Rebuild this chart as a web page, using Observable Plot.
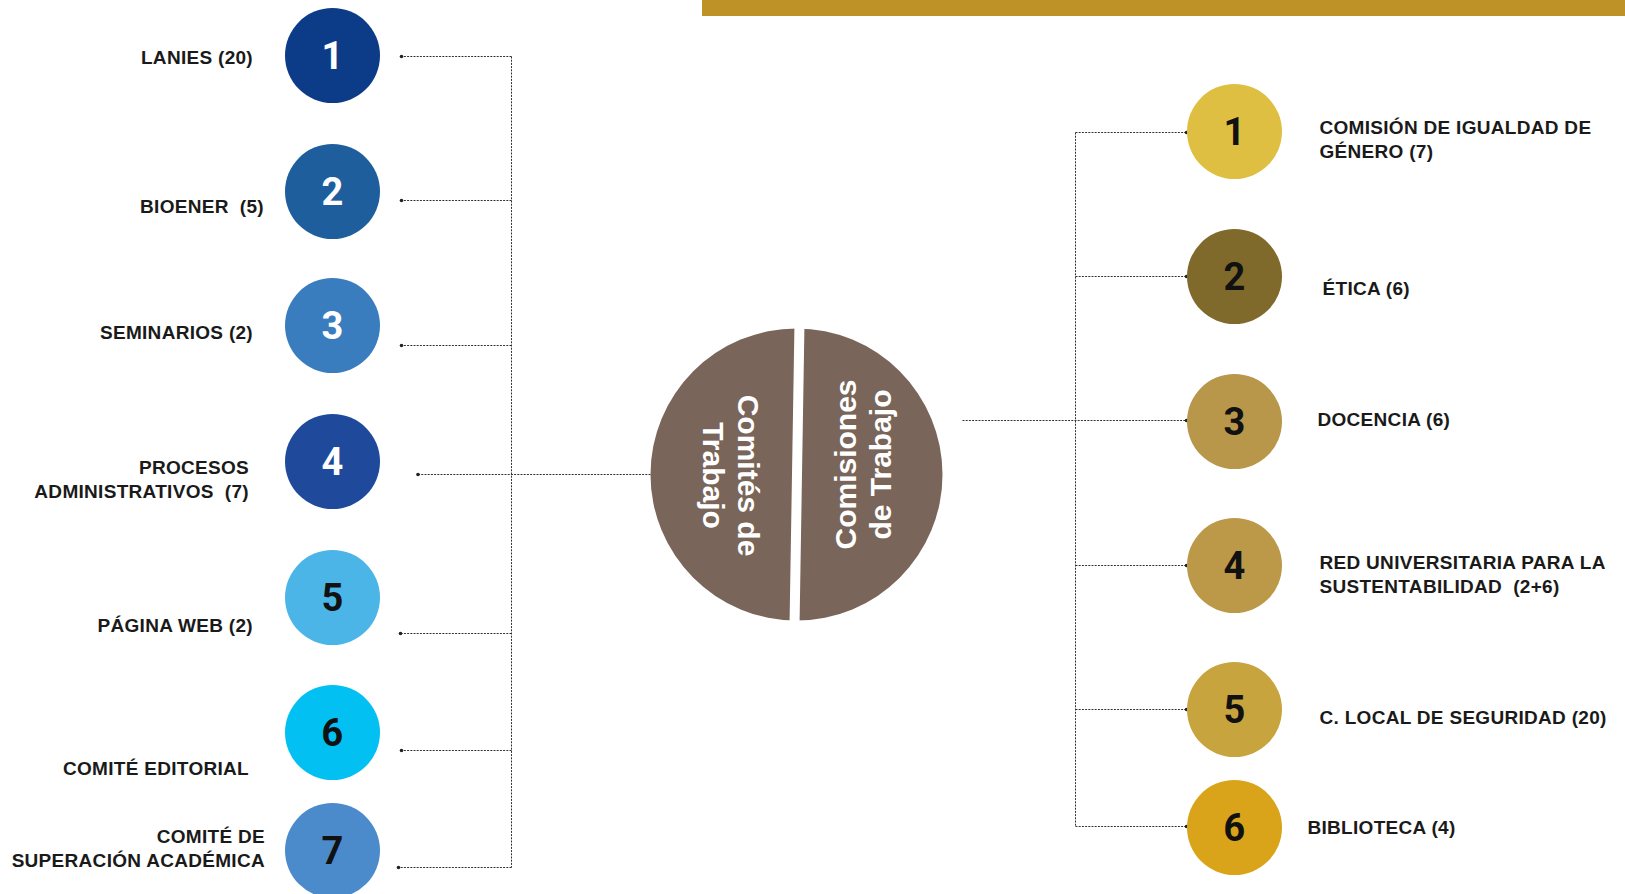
<!DOCTYPE html>
<html><head><meta charset="utf-8">
<script src="https://cdn.jsdelivr.net/npm/d3@7"></script>
<script src="https://cdn.jsdelivr.net/npm/@observablehq/plot@0.6"></script>
<style>body{margin:0;background:#fff;overflow:hidden}</style>
</head><body><div id="chart"></div>
<script>
// ---- data ----
const comiteNames = ["LANIES", "BIOENER ", "SEMINARIOS", "PROCESOS\nADMINISTRATIVOS ", "PÁGINA WEB", "COMITÉ EDITORIAL", "COMITÉ DE\nSUPERACIÓN ACADÉMICA"];
const comiteMembers = ["20", "5", "2", "7", "2", "", ""];
const comiteNumbers = [1, 2, 3, 4, 5, 6, 7];
const comisionNames = ["COMISIÓN DE IGUALDAD DE\nGÉNERO", "ÉTICA", "DOCENCIA", "RED UNIVERSITARIA PARA LA\nSUSTENTABILIDAD ", "C. LOCAL DE SEGURIDAD", "BIBLIOTECA"];
const comisionMembers = ["7", "6", "6", "2+6", "20", "4"];
const comisionNumbers = [1, 2, 3, 4, 5, 6];
const centerLabels = ["Comités de\nTrabajo", "Comisiones\nde Trabajo"];

// ---- layout (pixels) ----
const W = 1625, H = 894;
const leftColors = ["#0C3C87", "#1E5E9C", "#3A7DBE", "#1F4A9B", "#4BB5E7", "#02C1F2", "#4B8BCB"];
const leftNumColors = ["#fff", "#fff", "#fff", "#fff", "#111", "#111", "#111"];
const rightColors = ["#DFBF42", "#806A2B", "#B8964A", "#BC9949", "#C8A43F", "#D9A419"];
const L = {cx: 332, r: 47.5, cy: [55, 191, 325, 461, 597, 732, 850],
  linkY: [56, 200, 345, 474, 633, 750, 867], tipX: [401, 401, 401, 417.5, 400, 401, 398],
  trunkX: 511, labelX: [252.5, 263.5, 252.5, 248.5, 252.5, 248.5, 264.5], labelY: [56, 205, 331, 477.5, 624, 767, 846.5]};
const R = {cx: 1234, r: 47.5, cy: [131, 276, 421, 565, 709, 827],
  linkY: [132, 276, 420, 565, 709, 826], tipX: 1186, trunkX: 1075,
  labelX: [1319, 1322, 1317, 1319, 1319, 1307], labelY: [137.5, 287, 417.5, 572.5, 716, 826]};
const C = {cx: 796, cy: 474, r: 146};

const fmt = (n, m) => m ? `${n} (${m})` : n;
const left = comiteNames.map((n, i) => ({i, label: fmt(n, comiteMembers[i]), num: comiteNumbers[i]}));
const right = comisionNames.map((n, i) => ({i, label: fmt(n, comisionMembers[i]), num: comisionNumbers[i]}));

const dash = {stroke: "#333", strokeWidth: 1, strokeDasharray: "2,1.2"};
const leftLinks = left.map(d => ({x1: d.i === 3 ? C.cx - C.r : L.trunkX, x2: L.tipX[d.i], y: L.linkY[d.i]}));
const rightLinks = right.map(d => ({x1: d.i === 2 ? 962 : R.trunkX, x2: R.tipX, y: R.linkY[d.i]}));
const numFont = "Roboto, 'Liberation Sans', sans-serif";
const labelFont = "'Liberation Sans', Arial, sans-serif";

const chart = Plot.plot({
  width: W, height: H, margin: 0,
  x: {domain: [0, W], range: [0, W], axis: null},
  y: {domain: [0, H], range: [0, H], axis: null},
  style: {background: "#fff"},
  marks: [
    Plot.rect([0], {x1: () => 702, x2: () => W, y1: () => 0, y2: () => 16, fill: "#BE9226"}),
    // left connectors
    Plot.link([0], {x1: () => L.trunkX, x2: () => L.trunkX, y1: () => L.linkY[0], y2: () => L.linkY[6], ...dash}),
    Plot.link(leftLinks, {x1: "x1", x2: "x2", y1: "y", y2: "y", ...dash}),
    Plot.dot(leftLinks, {x: "x2", y: "y", r: 1.8, fill: "#222"}),
    // right connectors
    Plot.link([0], {x1: () => R.trunkX, x2: () => R.trunkX, y1: () => R.linkY[0], y2: () => R.linkY[5], ...dash}),
    Plot.link(rightLinks, {x1: "x1", x2: "x2", y1: "y", y2: "y", ...dash}),
    Plot.dot(rightLinks, {x: "x2", y: "y", r: 1.8, fill: "#222"}),
    // center split circle
    Plot.dot([0], {x: () => C.cx, y: () => C.cy, r: C.r, fill: "#7A655A"}),
    Plot.link([0], {x1: () => 799, y1: () => C.cy - C.r - 6, x2: () => 794, y2: () => C.cy + C.r + 6, stroke: "#fff", strokeWidth: 10}),
    Plot.text([centerLabels[0]], {x: () => 731, y: () => 475, text: d => d, rotate: 90, fontSize: 30, fontWeight: "bold", lineHeight: 1.17, fill: "#fff", fontFamily: labelFont}),
    Plot.text([centerLabels[1]], {x: () => 862, y: () => 464, text: d => d, rotate: -90, fontSize: 30, fontWeight: "bold", lineHeight: 1.17, fill: "#fff", fontFamily: labelFont}),
    // left circles
    Plot.dot(left, {x: () => L.cx, y: d => L.cy[d.i], r: L.r, fill: d => leftColors[d.i]}),
    Plot.text(left, {x: () => L.cx, y: d => L.cy[d.i] + 1, text: "num", fill: d => leftNumColors[d.i], fontSize: 38, fontWeight: "bold", fontFamily: numFont}),
    Plot.text(left, {x: d => L.labelX[d.i], y: d => L.labelY[d.i], text: "label", textAnchor: "end", fontSize: 19, fontWeight: "bold", lineHeight: 1.3, fill: "#1a1a1a", fontFamily: labelFont}),
    // right circles
    Plot.dot(right, {x: () => R.cx, y: d => R.cy[d.i], r: R.r, fill: d => rightColors[d.i]}),
    Plot.text(right, {x: () => R.cx, y: d => R.cy[d.i] + 1, text: "num", fill: "#111", fontSize: 38, fontWeight: "bold", fontFamily: numFont}),
    Plot.text(right, {x: d => R.labelX[d.i], y: d => R.labelY[d.i], text: "label", textAnchor: "start", fontSize: 19, fontWeight: "bold", lineHeight: 1.3, fill: "#1a1a1a", fontFamily: labelFont})
  ]
});
d3.select(chart).selectAll('g[font-size="19"]').attr("letter-spacing", "0.3");
document.getElementById("chart").append(chart);
</script>
</body></html>
